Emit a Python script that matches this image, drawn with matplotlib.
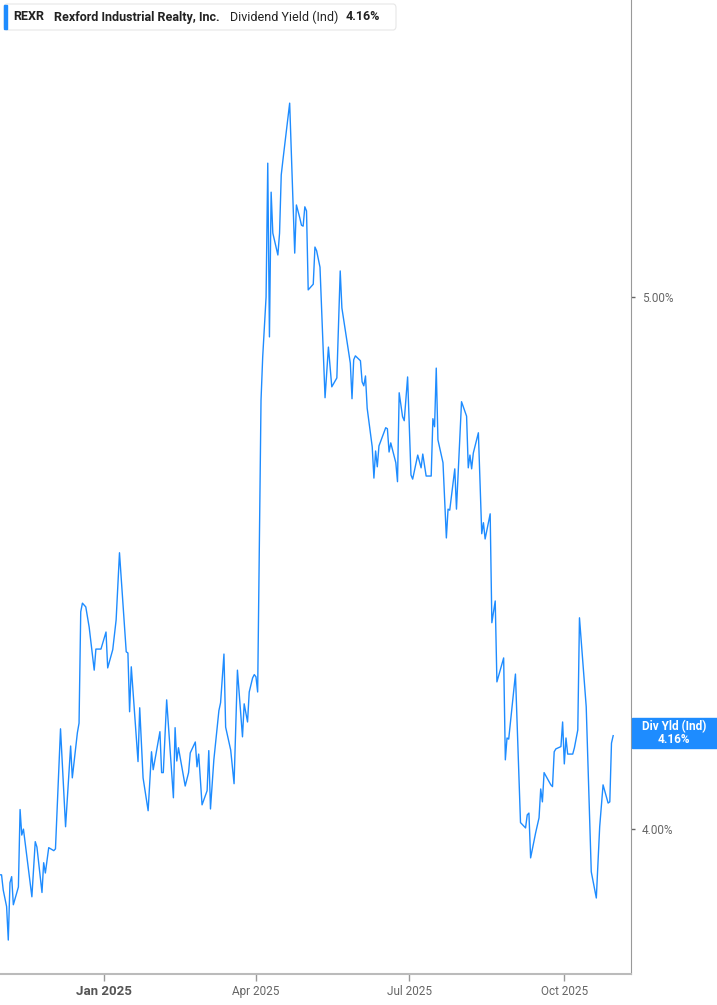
import matplotlib
matplotlib.use("Agg")
import matplotlib.pyplot as plt
import matplotlib.ticker as mticker
from matplotlib.patches import FancyBboxPatch, Rectangle
import pandas as pd

plt.rcParams['font.family'] = ['Roboto', 'DejaVu Sans']

ticker = "REXR"
company = "Rexford Industrial Realty, Inc."
metric = "Dividend Yield (Ind)"
last_label = "4.16%"

# days counted from 2025-01-01
days = [-62, -61, -60, -58, -57, -56, -55, -54, -51, -50, -49, -48, -43, -41, -40,
        -37, -36, -35, -33, -30, -29, -26, -23, -20, -19, -16, -15, -14, -13, -11,
        -9, -6, -5, -2, 1, 2, 5, 7, 9, 13, 14, 15, 16, 20, 21,
        23, 26, 28, 29, 33, 34, 35, 37, 41, 42, 43, 44, 48, 50, 51,
        54, 55, 56, 58, 61, 62, 63, 65, 68, 69, 71, 72, 75, 77, 79,
        82, 83, 85, 86, 88, 89, 90, 91, 93, 94, 96, 97, 98, 99, 100,
        103, 104, 105, 106, 110, 113, 114, 116, 117, 118, 119, 120, 121, 124, 125,
        126, 128, 131, 133, 135, 138, 140, 141, 146, 147, 148, 149, 152, 153, 154,
        155, 156, 159, 160, 161, 162, 163, 167, 168, 169, 170, 173, 174, 175, 177,
        178, 180, 182, 183, 186, 188, 189, 191, 194, 195, 196, 197, 198, 201, 203,
        204, 205, 208, 209, 212, 215, 216, 217, 218, 219, 222, 224, 225, 226, 229,
        230, 232, 233, 237, 238, 239, 240, 244, 247, 250, 251, 252, 253, 256, 258,
        259, 260, 261, 265, 266, 267, 268, 271, 272, 273, 274, 275, 278, 279, 281,
        282, 286, 289, 292, 294, 296, 299, 300, 301, 302]

div_yield = [3.924, 3.924, 3.899, 3.872, 3.818, 3.911, 3.921, 3.875, 3.904, 4.033, 3.990, 4.000, 3.888, 3.979, 3.970,
             3.895, 3.944, 3.927, 3.969, 3.964, 3.967, 4.172, 4.004, 4.142, 4.087, 4.165, 4.182, 4.382, 4.398, 4.391,
             4.354, 4.276, 4.314, 4.314, 4.345, 4.280, 4.313, 4.367, 4.492, 4.309, 4.307, 4.202, 4.282, 4.115, 4.209,
             4.087, 4.031, 4.132, 4.101, 4.167, 4.096, 4.096, 4.223, 4.053, 4.174, 4.116, 4.139, 4.073, 4.096, 4.130,
             4.149, 4.106, 4.128, 4.041, 4.065, 4.134, 4.034, 4.118, 4.204, 4.218, 4.305, 4.175, 4.135, 4.077, 4.276,
             4.158, 4.216, 4.184, 4.237, 4.262, 4.268, 4.264, 4.237, 4.789, 4.877, 5.001, 5.290, 4.918, 5.226, 5.137,
             5.090, 5.137, 5.264, 5.297, 5.425, 5.094, 5.198, 5.170, 5.154, 5.152, 5.194, 5.185, 5.016, 5.028, 5.107,
             5.099, 5.064, 4.794, 4.897, 4.816, 4.834, 5.056, 4.978, 4.864, 4.792, 4.871, 4.879, 4.869, 4.826, 4.818,
             4.838, 4.773, 4.696, 4.635, 4.688, 4.657, 4.698, 4.734, 4.732, 4.686, 4.704, 4.665, 4.628, 4.804, 4.756,
             4.748, 4.836, 4.641, 4.633, 4.680, 4.655, 4.682, 4.639, 4.639, 4.752, 4.736, 4.854, 4.710, 4.665, 4.520,
             4.575, 4.573, 4.653, 4.575, 4.786, 4.757, 4.655, 4.680, 4.653, 4.684, 4.724, 4.528, 4.549, 4.518, 4.566,
             4.362, 4.402, 4.255, 4.298, 4.118, 4.156, 4.154, 4.269, 4.011, 4.002, 4.024, 4.027, 3.952, 3.994, 4.019,
             4.068, 4.046, 4.096, 4.075, 4.072, 4.132, 4.137, 4.141, 4.184, 4.111, 4.156, 4.128, 4.128, 4.139, 4.170,
             4.371, 4.211, 3.929, 3.886, 4.004, 4.075, 4.044, 4.046, 4.147, 4.16]

tick_dates = ["2025-01-01", "2025-04-01", "2025-07-01", "2025-10-01"]
tick_names = ["Jan 2025", "Apr 2025", "Jul 2025", "Oct 2025"]
y_ticks = [4.0, 5.0]

dates = pd.Timestamp("2025-01-01") + pd.to_timedelta(days, unit="D")

W, H = 717, 1005
fig = plt.figure(figsize=(W / 100, H / 100), dpi=100)
ax = fig.add_axes([0, 1 - 974 / H, 631 / W, 974 / H])

blue = "#1e8cff"
ax.plot(dates, div_yield, color=blue, lw=1.0)

ax.set_yscale("log")
ax.set_ylim(3.764, 5.665)
ax.set_xlim(pd.Timestamp("2024-10-31") + pd.Timedelta(hours=2), pd.Timestamp("2025-11-09") + pd.Timedelta(hours=14))

ax.yaxis.tick_right()
ax.set_yticks(y_ticks)
ax.yaxis.set_minor_locator(mticker.NullLocator())
ax.set_yticklabels(["%.2f%%" % v for v in y_ticks])
ax.tick_params(axis="y", length=3, width=1, color="#666666", labelcolor="#666666",
               labelsize=8.5, pad=5, direction="out")

ax.set_xticks(pd.to_datetime(tick_dates))
ax.set_xticklabels(tick_names)
ax.tick_params(axis="x", length=5, width=1, color="#999999", labelcolor="#666666",
               labelsize=8.5, pad=3)
for lab in ax.get_xticklabels():
    if lab.get_text() == "Jan 2025":
        lab.set_fontweight("bold")
        lab.set_fontsize(9.5)
        lab.set_color("#555555")

for s in ["top", "left"]:
    ax.spines[s].set_visible(False)
ax.spines["right"].set_color("#999999")
ax.spines["bottom"].set_color("#bbbbbb")
ax.spines["bottom"].set_linewidth(1.5)

# header box
box = FancyBboxPatch((4 / W, 1 - 30 / H), 392 / W, 26 / H,
                     boxstyle="round,pad=0,rounding_size=0.004",
                     transform=fig.transFigure, facecolor="white",
                     edgecolor="#e6e6e6", lw=0.8)
fig.patches.append(box)
fig.patches.append(Rectangle((4 / W, 1 - 29 / H), 3 / W, 24 / H,
                             transform=fig.transFigure, color=blue))
hy = 1 - 17 / H
fig.text(13 / W, hy, ticker, fontsize=9, fontweight="bold", color="#222222", va="center")
fig.text(54 / W, hy, company, fontsize=9, fontweight="bold", color="#222222", va="center")
fig.text(230 / W, hy, metric, fontsize=9, color="#222222", va="center")
fig.text(346 / W, hy, last_label, fontsize=9, fontweight="bold", color="#222222", va="center")

# last value tag
fig.patches.append(Rectangle((632 / W, 1 - 748 / H), 85 / W, 30 / H,
                             transform=fig.transFigure, color=blue))
fig.text(674 / W, 1 - 727 / H, "Div Yld (Ind)", fontsize=8.5, fontweight="bold",
         color="white", ha="center", va="center")
fig.text(674 / W, 1 - 739 / H, last_label, fontsize=8.5, fontweight="bold",
         color="white", ha="center", va="center")

fig.savefig("out.png", dpi=100)
